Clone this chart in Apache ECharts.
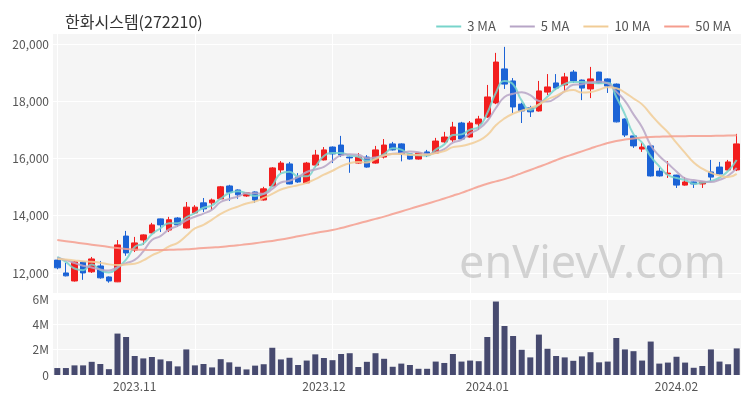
<!DOCTYPE html>
<html><head><meta charset="utf-8">
<script src="https://cdn.jsdelivr.net/npm/echarts@6/dist/echarts.min.js"></script>
<style>html,body{margin:0;padding:0;background:#fff}#c{width:750px;height:400px}</style>
</head><body><div id="c"></div>
<script>
const dates = [
'2023-10-19','2023-10-20','2023-10-23','2023-10-24','2023-10-25','2023-10-26','2023-10-27','2023-10-30','2023-10-31',
'2023-11-01','2023-11-02','2023-11-03','2023-11-06','2023-11-07','2023-11-08','2023-11-09','2023-11-10','2023-11-13','2023-11-14','2023-11-15','2023-11-16','2023-11-17','2023-11-20','2023-11-21','2023-11-22','2023-11-23','2023-11-24','2023-11-27','2023-11-28','2023-11-29','2023-11-30',
'2023-12-01','2023-12-04','2023-12-05','2023-12-06','2023-12-07','2023-12-08','2023-12-11','2023-12-12','2023-12-13','2023-12-14','2023-12-15','2023-12-18','2023-12-19','2023-12-20','2023-12-21','2023-12-22','2023-12-26','2023-12-27','2023-12-28',
'2024-01-02','2024-01-03','2024-01-04','2024-01-05','2024-01-08','2024-01-09','2024-01-10','2024-01-11','2024-01-12','2024-01-15','2024-01-16','2024-01-17','2024-01-18','2024-01-19','2024-01-22','2024-01-23','2024-01-24','2024-01-25','2024-01-26','2024-01-29','2024-01-30','2024-01-31',
'2024-02-01','2024-02-02','2024-02-05','2024-02-06','2024-02-07','2024-02-08','2024-02-13','2024-02-14'];

const opens  = [12450,12000,11720,12385,12040,12245,11860,11690,13290,12800,13150,13400,13890,13500,13920,13570,14100,14450,14450,14590,
15040,14900,14690,14830,14550,15040,15600,15810,15350,15150,15770,15950,16400,16470,16050,15840,16050,15840,16050,16510,
16510,16160,15980,16230,16190,16580,16650,17240,16750,17210,17450,17940,19130,18710,17900,17770,17660,18320,18640,18570,
19020,18740,18430,19020,18780,18600,17380,16790,16330,16440,15560,15460,15420,15070,15180,15110,15530,15700,15600,15600];
const closes = [12180,11900,12385,12000,12490,11830,11720,12980,12700,13050,13330,13680,13680,13860,13680,14300,14300,14240,14550,15010,
14820,14730,14800,14550,14940,15670,15840,15110,15180,15840,16120,16300,16160,16120,16020,16050,15700,16300,16470,16300,
16160,15980,16190,16120,16610,16750,17100,16680,17240,17380,18150,19370,18600,17800,17660,17630,18360,18500,18460,18850,
18710,18460,18780,18640,18530,17280,16820,16440,16400,15390,15390,15490,15070,15180,15110,15180,15350,15460,15880,16510];
const lows   = [12130,11880,11700,11760,12000,11800,11660,11680,12600,12730,12980,13380,13430,13430,13610,13550,14060,14130,14200,14580,
14520,14590,14660,14450,14530,15020,15490,15100,15150,15130,15700,15930,15840,16050,15500,15820,15680,15820,16000,16280,
15900,15960,15960,16050,16170,16540,16580,16660,16730,17000,17420,17900,18430,17590,17240,17450,17640,18220,18400,18360,
18640,18040,18110,18620,18290,17260,16750,16370,16230,15370,15370,15320,14970,15050,14970,14970,15210,15440,15580,15560];
const highs  = [12500,12350,12400,12400,12560,12420,11880,13150,13470,13260,13350,13750,13900,13960,13950,14480,14370,14620,14600,15040,
15080,14920,14830,14850,15010,15700,15910,15880,15490,15880,16300,16400,16420,16790,16070,16190,16120,16440,16680,16580,
16530,16180,16200,16300,16720,16930,17280,17280,17310,17490,18570,19690,19900,18810,17950,17840,18710,18950,18950,18990,
19090,18760,19200,19030,18800,18620,17400,16800,16540,16460,15670,15910,15430,15350,15190,15190,15950,15880,15950,16860];
const volumes = [0.55,0.55,0.76,0.76,1.04,0.87,0.46,3.27,3.0,1.5,1.31,1.42,1.23,1.09,0.68,2.02,0.76,0.87,0.6,1.25,
1.0,0.65,0.44,0.74,0.85,2.15,1.23,1.36,0.79,1.14,1.63,1.34,1.17,1.66,1.72,0.63,1.04,1.72,1.28,0.65,
0.9,0.79,0.49,0.49,1.06,0.95,1.66,1.06,1.14,1.09,3.0,5.8,3.87,3.08,1.99,1.39,3.19,2.07,1.5,1.39,
1.12,1.47,1.8,1.0,1.06,2.92,2.02,1.88,1.14,2.64,0.9,0.98,1.44,0.98,0.57,0.71,2.02,1.06,0.85,2.1];
const ma50 = [13150,13110,13070,13030,12990,12950,12910,12870,12840,12820,12810,12800,12800,12810,12820,12830,12850,12870,12890,12910,
12940,12970,13000,13040,13080,13120,13170,13220,13280,13340,13400,13450,13500,13570,13650,13730,13810,13890,13970,14060,
14150,14240,14330,14420,14510,14600,14700,14800,14910,15020,15120,15200,15280,15380,15490,15600,15710,15820,15940,16050,
16150,16250,16350,16450,16540,16610,16660,16700,16730,16750,16760,16770,16775,16780,16785,16790,16790,16795,16800,16810];
// MA values before a full window is visible
const ma3Head = [12560,12385];
const ma5Head = [12520,12450,12350,12250];
const ma10Head = [12490,12470,12440,12410,12390,12360,12300,12280,12300];
const yTicks = [12000,14000,16000,18000,20000];
const legendNames = ['3 MA','5 MA','10 MA','50 MA'];

function movingAvg(n, head) {
  return closes.map((c, i) => {
    if (i < n - 1) return head[i];
    let s = 0; for (let k = i - n + 1; k <= i; k++) s += closes[k];
    return Math.round(s / n);
  });
}
const ma3 = movingAvg(3, ma3Head), ma5 = movingAvg(5, ma5Head), ma10 = movingAvg(10, ma10Head);
const candles = dates.map((d, i) => [opens[i], closes[i], lows[i], highs[i]]);
const vols = volumes.map(v => v * 1e6);

const FONT = '"Noto Sans CJK KR", "Noto Sans", sans-serif';
const chart = echarts.init(document.getElementById('c'), null, {renderer: 'canvas'});
const monthStart = (i) => i > 0 && dates[i].slice(0,7) !== dates[i-1].slice(0,7);
const maColors = ['#78d4cb','#b7a5c6','#f1cc96','#f59d8e'];
function maSeries(name, data, color, z) {
  return {name, type: 'line', data, xAxisIndex: 0, yAxisIndex: 0, smooth: true, symbol: 'none', showSymbol: false,
    lineStyle: {width: 2, color, opacity: 0.85}, itemStyle: {color}, z};
}
chart.setOption({
  animation: false,
  textStyle: {fontFamily: FONT},
  title: {text: '한화시스템(272210)', left: 60, top: 9,
    textStyle: {fontSize: 16, fontWeight: 'normal', color: '#333', fontFamily: FONT}},
  legend: {data: legendNames.map(n => ({name: n, icon: 'rect'})), right: 14, top: 15,
    itemWidth: 25, itemHeight: 2, itemGap: 14,
    textStyle: {fontSize: 13, color: '#555', fontFamily: FONT, padding: [0, 0, 0, 1]}},
  graphic: [{type: 'text', left: 459, top: 243, z: 100, silent: true,
    style: {text: 'enVievV.com', font: '45px "Noto Sans", sans-serif', fill: 'rgba(150,150,150,0.38)'}}],
  grid: [
    {left: 53, right: 9, top: 34, height: 259, show: true, backgroundColor: '#f5f5f5', borderWidth: 0},
    {left: 53, right: 9, top: 299, height: 76, show: true, backgroundColor: '#f5f5f5', borderWidth: 0}
  ],
  xAxis: [
    {type: 'category', data: dates, gridIndex: 0, boundaryGap: true,
      axisLine: {show: false}, axisTick: {show: false}, axisLabel: {show: false},
      splitLine: {show: true, interval: 15, alignWithLabel: true, lineStyle: {color: '#ffffff', width: 1}}},
    {type: 'category', data: dates, gridIndex: 1, boundaryGap: true,
      axisLine: {show: false}, axisTick: {show: false},
      axisLabel: {interval: (i) => monthStart(i), formatter: (v) => v.slice(0,7).replace('-', '.'),
        color: '#555', fontSize: 12, margin: 5, fontFamily: FONT},
      splitLine: {show: true, interval: 15, alignWithLabel: true, lineStyle: {color: '#ffffff', width: 1}}}
  ],
  yAxis: [
    {type: 'value', gridIndex: 0, min: 11300, max: 20350, scale: true,
      axisLine: {show: false}, axisTick: {show: false, customValues: yTicks},
      axisLabel: {customValues: yTicks, color: '#555', fontSize: 12, margin: 4, fontFamily: FONT,
        formatter: (v) => v.toLocaleString('en-US')},
      splitLine: {show: true, lineStyle: {color: '#ffffff', width: 1}}},
    {type: 'value', gridIndex: 1, min: 0, max: 6e6, interval: 2e6,
      axisLine: {show: false}, axisTick: {show: false},
      axisLabel: {color: '#555', fontSize: 12, margin: 4, fontFamily: FONT,
        formatter: (v) => v === 0 ? '0' : (v / 1e6) + 'M'},
      splitLine: {show: true, lineStyle: {color: '#ffffff', width: 1}}}
  ],
  series: [
    {name: 'price', type: 'candlestick', data: candles, xAxisIndex: 0, yAxisIndex: 0, barWidth: 6, z: 3,
      itemStyle: {color: '#f21e1e', color0: '#1b63d6', borderColor: '#f21e1e', borderColor0: '#1b63d6', borderWidth: 1}},
    maSeries('3 MA', ma3, maColors[0], 4),
    maSeries('5 MA', ma5, maColors[1], 4),
    maSeries('10 MA', ma10, maColors[2], 4),
    maSeries('50 MA', ma50, maColors[3], 4),
    {name: 'volume', type: 'bar', data: vols, xAxisIndex: 1, yAxisIndex: 1, barWidth: 6,
      itemStyle: {color: '#474a6f'}}
  ]
});
</script></body></html>
